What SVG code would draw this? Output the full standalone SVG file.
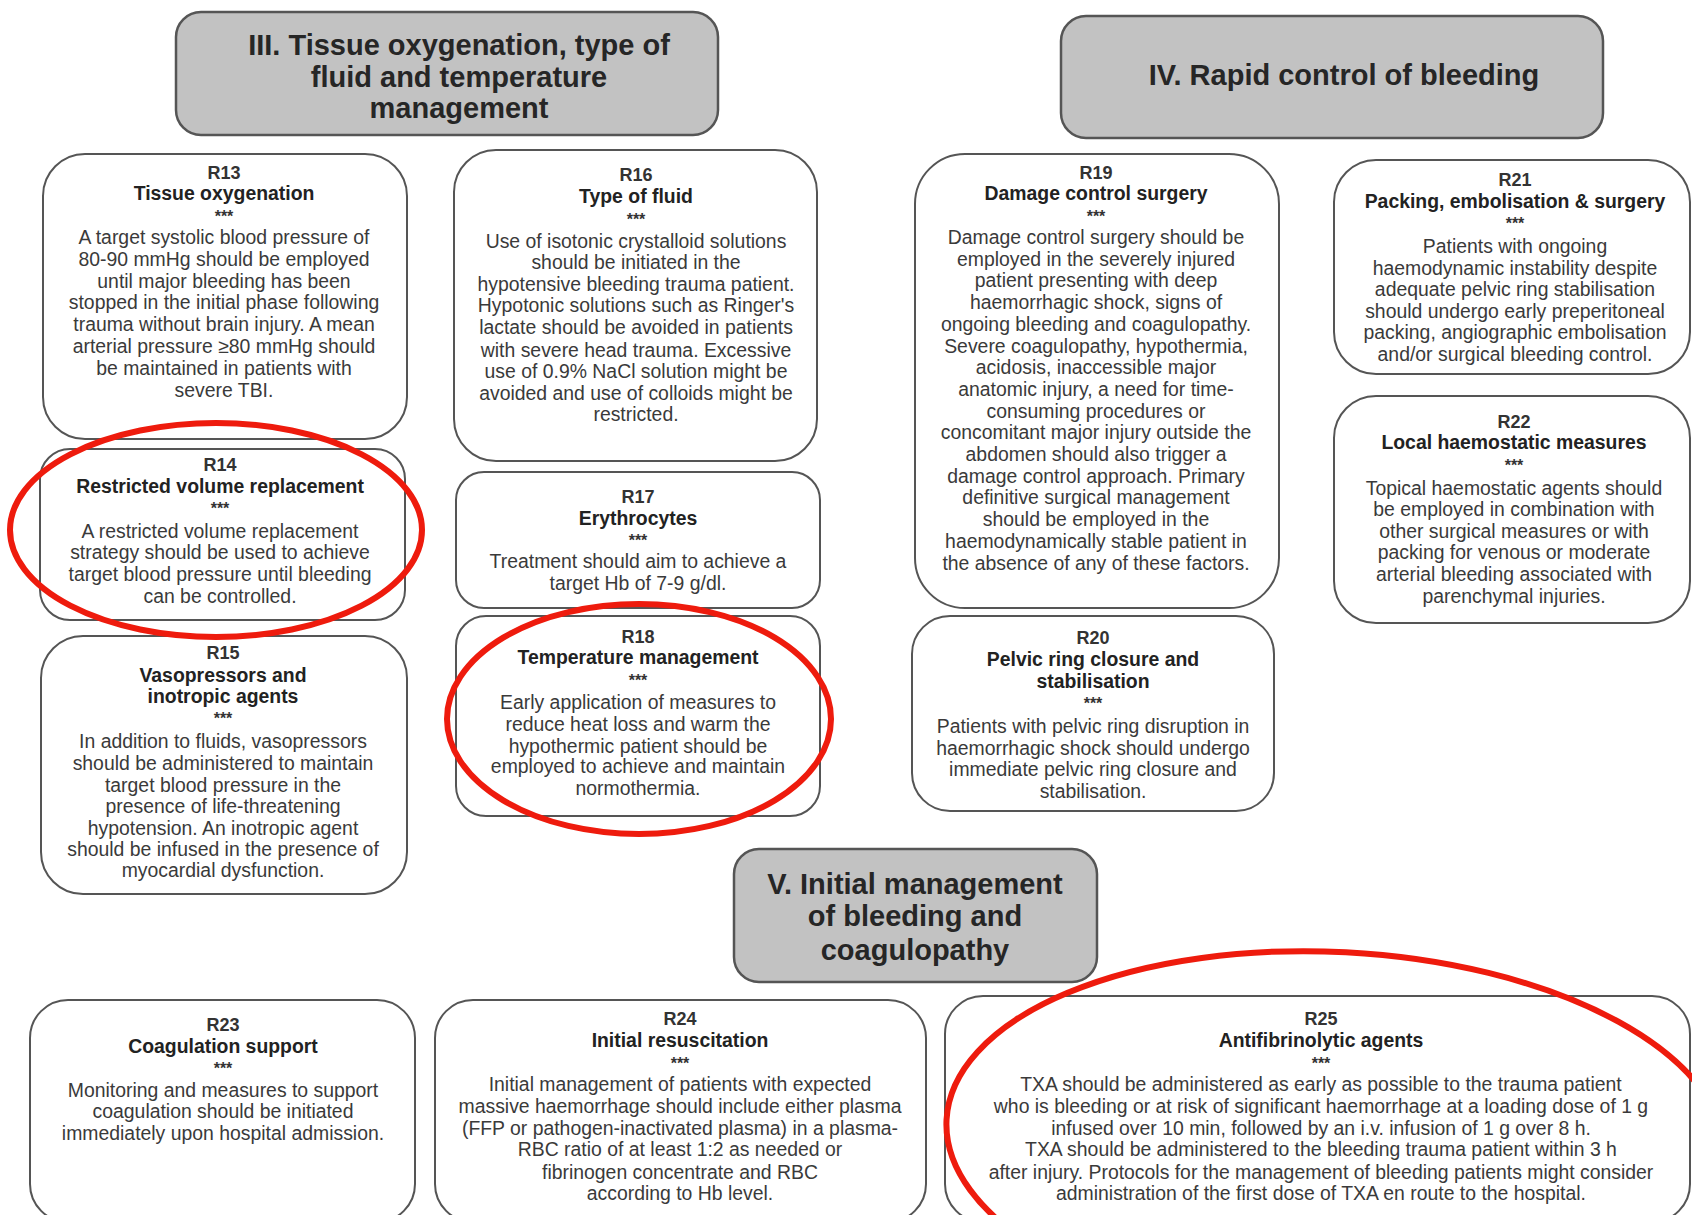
<svg xmlns="http://www.w3.org/2000/svg" width="1692" height="1215" viewBox="0 0 1692 1215">
<style>
.hdr{fill:#c2c2c2;stroke:#555;stroke-width:2.5}
.hdrt{font-family:"Liberation Sans",Arial,sans-serif;font-weight:bold;font-size:29px;fill:#262626;text-anchor:middle}
.box{fill:#fff;stroke:#555;stroke-width:2}
.rid{font-family:"Liberation Sans",Arial,sans-serif;font-weight:bold;font-size:18px;fill:#333;text-anchor:middle}
.ttl{font-family:"Liberation Sans",Arial,sans-serif;font-weight:bold;font-size:19.4px;fill:#222;text-anchor:middle}
.ast{font-family:"Liberation Sans",Arial,sans-serif;font-weight:bold;font-size:16px;fill:#333;text-anchor:middle}
.bd{font-family:"Liberation Sans",Arial,sans-serif;font-size:19.4px;fill:#3a3a3a;text-anchor:middle}
.red{fill:none;stroke:#ee1b0d;stroke-width:6}
</style>
<rect width="1692" height="1215" fill="#fff"/>

<g id="hdr3">
<rect class="hdr" x="176" y="12" width="542" height="123" rx="25"/>
<text class="hdrt" x="459" y="55">III. Tissue oxygenation, type of</text>
<text class="hdrt" x="459" y="87">fluid and temperature</text>
<text class="hdrt" x="459" y="118">management</text>
</g>
<g id="hdr4">
<rect class="hdr" x="1061" y="16" width="542" height="122" rx="25"/>
<text class="hdrt" x="1344" y="85">IV. Rapid control of bleeding</text>
</g>
<g id="hdr5">
<rect class="hdr" x="734" y="849" width="363" height="133" rx="25"/>
<text class="hdrt" x="915" y="894">V. Initial management</text>
<text class="hdrt" x="915" y="926">of bleeding and</text>
<text class="hdrt" x="915" y="960">coagulopathy</text>
</g>

<g id="R13">
<rect class="box" x="43" y="154" width="364" height="285" rx="42"/>
<text class="rid" x="224" y="179">R13</text>
<text class="ttl" x="224" y="200">Tissue oxygenation</text>
<text class="ast" x="224" y="222">***</text>
<text class="bd" x="224" y="244">A target systolic blood pressure of</text>
<text class="bd" x="224" y="266">80-90 mmHg should be employed</text>
<text class="bd" x="224" y="288">until major bleeding has been</text>
<text class="bd" x="224" y="309">stopped in the initial phase following</text>
<text class="bd" x="224" y="331">trauma without brain injury. A mean</text>
<text class="bd" x="224" y="353">arterial pressure ≥80 mmHg should</text>
<text class="bd" x="224" y="375">be maintained in patients with</text>
<text class="bd" x="224" y="397">severe TBI.</text>
</g>

<g id="R16">
<rect class="box" x="454" y="150" width="363" height="311" rx="42"/>
<text class="rid" x="636" y="181">R16</text>
<text class="ttl" x="636" y="203">Type of fluid</text>
<text class="ast" x="636" y="225">***</text>
<text class="bd" x="636" y="248">Use of isotonic crystalloid solutions</text>
<text class="bd" x="636" y="269">should be initiated in the</text>
<text class="bd" x="636" y="291">hypotensive bleeding trauma patient.</text>
<text class="bd" x="636" y="312">Hypotonic solutions such as Ringer's</text>
<text class="bd" x="636" y="334">lactate should be avoided in patients</text>
<text class="bd" x="636" y="357">with severe head trauma. Excessive</text>
<text class="bd" x="636" y="378">use of 0.9% NaCl solution might be</text>
<text class="bd" x="636" y="400">avoided and use of colloids might be</text>
<text class="bd" x="636" y="421">restricted.</text>
</g>

<g id="R14">
<rect class="box" x="40" y="449" width="365" height="171" rx="30"/>
<text class="rid" x="220" y="471">R14</text>
<text class="ttl" x="220" y="493">Restricted volume replacement</text>
<text class="ast" x="220" y="514">***</text>
<text class="bd" x="220" y="538">A restricted volume replacement</text>
<text class="bd" x="220" y="559">strategy should be used to achieve</text>
<text class="bd" x="220" y="581">target blood pressure until bleeding</text>
<text class="bd" x="220" y="603">can be controlled.</text>
</g>

<g id="R17">
<rect class="box" x="456" y="472" width="364" height="136" rx="28"/>
<text class="rid" x="638" y="503">R17</text>
<text class="ttl" x="638" y="525">Erythrocytes</text>
<text class="ast" x="638" y="546">***</text>
<text class="bd" x="638" y="568">Treatment should aim to achieve a</text>
<text class="bd" x="638" y="590">target Hb of 7-9 g/dl.</text>
</g>

<g id="R18">
<rect class="box" x="456" y="616" width="364" height="200" rx="30"/>
<text class="rid" x="638" y="643">R18</text>
<text class="ttl" x="638" y="664">Temperature management</text>
<text class="ast" x="638" y="686">***</text>
<text class="bd" x="638" y="709">Early application of measures to</text>
<text class="bd" x="638" y="731">reduce heat loss and warm the</text>
<text class="bd" x="638" y="753">hypothermic patient should be</text>
<text class="bd" x="638" y="773">employed to achieve and maintain</text>
<text class="bd" x="638" y="795">normothermia.</text>
</g>

<g id="R15">
<rect class="box" x="41" y="636" width="366" height="258" rx="42"/>
<text class="rid" x="223" y="659">R15</text>
<text class="ttl" x="223" y="682">Vasopressors and</text>
<text class="ttl" x="223" y="703">inotropic agents</text>
<text class="ast" x="223" y="724">***</text>
<text class="bd" x="223" y="748">In addition to fluids, vasopressors</text>
<text class="bd" x="223" y="770">should be administered to maintain</text>
<text class="bd" x="223" y="792">target blood pressure in the</text>
<text class="bd" x="223" y="813">presence of life-threatening</text>
<text class="bd" x="223" y="835">hypotension. An inotropic agent</text>
<text class="bd" x="223" y="856">should be infused in the presence of</text>
<text class="bd" x="223" y="877">myocardial dysfunction.</text>
</g>

<g id="R19">
<rect class="box" x="915" y="154" width="364" height="454" rx="50"/>
<text class="rid" x="1096" y="179">R19</text>
<text class="ttl" x="1096" y="200">Damage control surgery</text>
<text class="ast" x="1096" y="222">***</text>
<text class="bd" x="1096" y="244">Damage control surgery should be</text>
<text class="bd" x="1096" y="266">employed in the severely injured</text>
<text class="bd" x="1096" y="287">patient presenting with deep</text>
<text class="bd" x="1096" y="309">haemorrhagic shock, signs of</text>
<text class="bd" x="1096" y="331">ongoing bleeding and coagulopathy.</text>
<text class="bd" x="1096" y="353">Severe coagulopathy, hypothermia,</text>
<text class="bd" x="1096" y="374">acidosis, inaccessible major</text>
<text class="bd" x="1096" y="396">anatomic injury, a need for time-</text>
<text class="bd" x="1096" y="418">consuming procedures or</text>
<text class="bd" x="1096" y="439">concomitant major injury outside the</text>
<text class="bd" x="1096" y="461">abdomen should also trigger a</text>
<text class="bd" x="1096" y="483">damage control approach. Primary</text>
<text class="bd" x="1096" y="504">definitive surgical management</text>
<text class="bd" x="1096" y="526">should be employed in the</text>
<text class="bd" x="1096" y="548">haemodynamically stable patient in</text>
<text class="bd" x="1096" y="570">the absence of any of these factors.</text>
</g>

<g id="R20">
<rect class="box" x="912" y="616" width="362" height="195" rx="38"/>
<text class="rid" x="1093" y="644">R20</text>
<text class="ttl" x="1093" y="666">Pelvic ring closure and</text>
<text class="ttl" x="1093" y="688">stabilisation</text>
<text class="ast" x="1093" y="709">***</text>
<text class="bd" x="1093" y="733">Patients with pelvic ring disruption in</text>
<text class="bd" x="1093" y="755">haemorrhagic shock should undergo</text>
<text class="bd" x="1093" y="776">immediate pelvic ring closure and</text>
<text class="bd" x="1093" y="798">stabilisation.</text>
</g>

<g id="R21">
<rect class="box" x="1334" y="160" width="356" height="214" rx="42"/>
<text class="rid" x="1515" y="186">R21</text>
<text class="ttl" x="1515" y="208">Packing, embolisation &amp; surgery</text>
<text class="ast" x="1515" y="229">***</text>
<text class="bd" x="1515" y="253">Patients with ongoing</text>
<text class="bd" x="1515" y="275">haemodynamic instability despite</text>
<text class="bd" x="1515" y="296">adequate pelvic ring stabilisation</text>
<text class="bd" x="1515" y="318">should undergo early preperitoneal</text>
<text class="bd" x="1515" y="339">packing, angiographic embolisation</text>
<text class="bd" x="1515" y="361">and/or surgical bleeding control.</text>
</g>

<g id="R22">
<rect class="box" x="1334" y="396" width="356" height="227" rx="42"/>
<text class="rid" x="1514" y="428">R22</text>
<text class="ttl" x="1514" y="449">Local haemostatic measures</text>
<text class="ast" x="1514" y="471">***</text>
<text class="bd" x="1514" y="495">Topical haemostatic agents should</text>
<text class="bd" x="1514" y="516">be employed in combination with</text>
<text class="bd" x="1514" y="538">other surgical measures or with</text>
<text class="bd" x="1514" y="559">packing for venous or moderate</text>
<text class="bd" x="1514" y="581">arterial bleeding associated with</text>
<text class="bd" x="1514" y="603">parenchymal injuries.</text>
</g>

<g id="R23">
<rect class="box" x="30" y="1000" width="385" height="222" rx="38"/>
<text class="rid" x="223" y="1031">R23</text>
<text class="ttl" x="223" y="1053">Coagulation support</text>
<text class="ast" x="223" y="1074">***</text>
<text class="bd" x="223" y="1097">Monitoring and measures to support</text>
<text class="bd" x="223" y="1118">coagulation should be initiated</text>
<text class="bd" x="223" y="1140">immediately upon hospital admission.</text>
</g>

<g id="R24">
<rect class="box" x="435" y="1000" width="491" height="222" rx="38"/>
<text class="rid" x="680" y="1025">R24</text>
<text class="ttl" x="680" y="1047">Initial resuscitation</text>
<text class="ast" x="680" y="1069">***</text>
<text class="bd" x="680" y="1091">Initial management of patients with expected</text>
<text class="bd" x="680" y="1113">massive haemorrhage should include either plasma</text>
<text class="bd" x="680" y="1135">(FFP or pathogen-inactivated plasma) in a plasma-</text>
<text class="bd" x="680" y="1156">RBC ratio of at least 1:2 as needed or</text>
<text class="bd" x="680" y="1179">fibrinogen concentrate and RBC</text>
<text class="bd" x="680" y="1200">according to Hb level.</text>
</g>

<g id="R25">
<rect class="box" x="945" y="996" width="745" height="226" rx="38"/>
<text class="rid" x="1321" y="1025">R25</text>
<text class="ttl" x="1321" y="1047">Antifibrinolytic agents</text>
<text class="ast" x="1321" y="1069">***</text>
<text class="bd" x="1321" y="1091">TXA should be administered as early as possible to the trauma patient</text>
<text class="bd" x="1321" y="1113">who is bleeding or at risk of significant haemorrhage at a loading dose of 1 g</text>
<text class="bd" x="1321" y="1135">infused over 10 min, followed by an i.v. infusion of 1 g over 8 h.</text>
<text class="bd" x="1321" y="1156">TXA should be administered to the bleeding trauma patient within 3 h</text>
<text class="bd" x="1321" y="1179">after injury. Protocols for the management of bleeding patients might consider</text>
<text class="bd" x="1321" y="1200">administration of the first dose of TXA en route to the hospital.</text>
</g>

<g id="connectors"></g>

<g id="annotations">
<ellipse class="red" cx="216" cy="530" rx="206" ry="107"/>
<ellipse class="red" cx="639" cy="719" rx="192" ry="115"/>
<ellipse class="red" cx="1336" cy="1140" rx="390" ry="188" transform="rotate(3 1336 1140)"/>
</g>
</svg>
